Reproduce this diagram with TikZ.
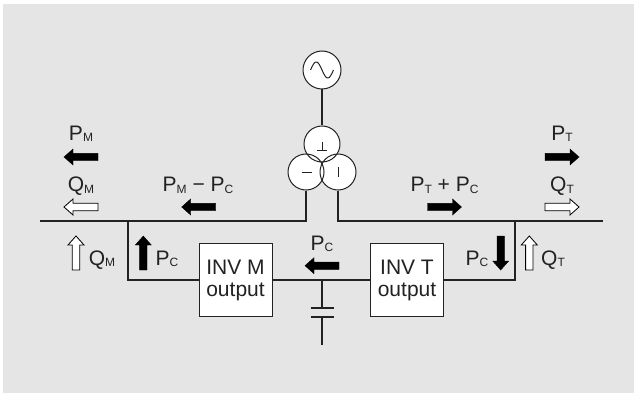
\documentclass[tikz,border=0pt]{standalone}
\usepackage{fontspec}
\setmainfont{Liberation Sans}
\newcommand{\sbs}[2]{#1\raisebox{-1.5pt}{\fontsize{12}{12}\selectfont #2}}
\definecolor{bggray}{HTML}{E5E5E5}
\definecolor{ink}{HTML}{222222}
\tikzset{
  wire/.style={draw=ink, line width=1.1pt},
  lbl/.style={font=\fontsize{21}{22}\selectfont, text=ink, inner sep=0pt},
  ring/.style={circle, draw=ink, line width=1pt, fill=white, minimum size=#1, inner sep=0pt},
  invbox/.style={draw=ink, line width=1pt, fill=white, minimum width=73pt, minimum height=73pt, inner sep=0pt, align=center, font=\fontsize{21}{22}\selectfont, text=ink},
  solidarr/.style={fill=black, draw=black, line width=0.4pt},
  hollowarr/.style={fill=white, draw=black, line width=0.8pt},
  harrow/.pic={\path[pic actions] (-17,-3.7) -- (8,-3.7) -- (8,-8) -- (17,0) -- (8,8) -- (8,3.7) -- (-17,3.7) -- cycle;},
  varrow/.pic={\path[pic actions] (-3.7,-17) -- (-3.7,8) -- (-8,8) -- (0,17) -- (8,8) -- (3.7,8) -- (3.7,-17) -- cycle;}
}
\begin{document}
\begin{tikzpicture}[x=1pt,y=-1pt]
\useasboundingbox (0,0) rectangle (634,393);
\fill[bggray] (3,4) rectangle (634,393);

% generator
\node[ring=38pt] (gen) at (322,70) {};
\draw[ink, line width=1pt] plot[domain=0:360, smooth, samples=40] ({310.5+\x/360*23},{70-8*sin(\x)});

% transformer (three windings)
\node[ring=36pt, draw=none] (tA) at (322,144) {};
\node[ring=36pt, draw=none] (tL) at (306,172) {};
\node[ring=36pt, draw=none] (tR) at (338,172) {};
\draw[ink, line width=1pt] (tA.center) circle[radius=18pt];
\draw[ink, line width=1pt] (tL.center) circle[radius=18pt];
\draw[ink, line width=1pt] (tR.center) circle[radius=18pt];
\draw[ink, line width=1pt] (322,141.5) -- (322,150) (317,150) -- (327,150);
\draw[ink, line width=1pt] (301.5,172) -- (311.5,172);
\draw[ink, line width=1pt] (338,167) -- (338,177);

\draw[wire] (gen.south) -- (tA.north);

% bus
\coordinate (busL) at (40,221);
\coordinate (busR) at (603,221);
\draw[wire] (tL.south) |- (busL);
\draw[wire] (tR.south) |- (busR);

% inverters
\node[invbox] (invM) at (235.5,280) {INV M\\output};
\node[invbox] (invT) at (407,280) {INV T\\output};
\coordinate (lt) at (128,221);
\coordinate (rt) at (515,221);
\draw[wire] (lt) |- (invM.west);
\draw[wire] (invM.east) -- (invT.west);
\draw[wire] (invT.east) -| (rt);

% capacitor
\coordinate (c0) at (322,280);
\coordinate (cp1) at (322,308);
\coordinate (cp2) at (322,317);
\coordinate (cend) at (322,345);
\draw[wire] (c0) -- (cp1);
\draw[wire] (cp2) -- (cend);
\draw[wire] ([xshift=-11.5pt]cp1) -- ([xshift=11.5pt]cp1);
\draw[wire] ([xshift=-11.5pt]cp2) -- ([xshift=11.5pt]cp2);

% top labels and arrows
\node[lbl, anchor=base] (lPM) at (81,140) {\sbs{P}{M}};
\pic[solidarr, xscale=-1] at (81,157) {harrow};
\node[lbl, anchor=base] (lQM) at (81,191.5) {\sbs{Q}{M}};
\pic[hollowarr, xscale=-1] at (81,207) {harrow};
\node[lbl, anchor=base] (lPMC) at (198,191.5) {\sbs{P}{M} − \sbs{P}{C}};
\pic[solidarr, xscale=-1] at (198.7,207) {harrow};

\node[lbl, anchor=base] (lPT) at (562,140) {\sbs{P}{T}};
\pic[solidarr] at (562,157) {harrow};
\node[lbl, anchor=base] (lQT) at (562,191.5) {\sbs{Q}{T}};
\pic[hollowarr] at (562,207) {harrow};
\node[lbl, anchor=base] (lPTC) at (444.5,191.5) {\sbs{P}{T} + \sbs{P}{C}};
\pic[solidarr] at (444.5,207) {harrow};

% lower labels and arrows
\pic[hollowarr, yscale=-1] at (76,253) {varrow};
\node[lbl, anchor=base] (lQM2) at (102,265) {\sbs{Q}{M}};
\pic[solidarr, yscale=-1] at (143.3,253) {varrow};
\node[lbl, anchor=base] (lPC1) at (167,265) {\sbs{P}{C}};
\node[lbl, anchor=base] (lPC2) at (322,250) {\sbs{P}{C}};
\pic[solidarr, xscale=-1] at (322,265.7) {harrow};
\node[lbl, anchor=base] (lPC3) at (477,265) {\sbs{P}{C}};
\pic[solidarr] at (500.7,253) {varrow};
\pic[hollowarr, yscale=-1] at (529.3,253) {varrow};
\node[lbl, anchor=base] (lQT2) at (553,265) {\sbs{Q}{T}};
\end{tikzpicture}
\end{document}
